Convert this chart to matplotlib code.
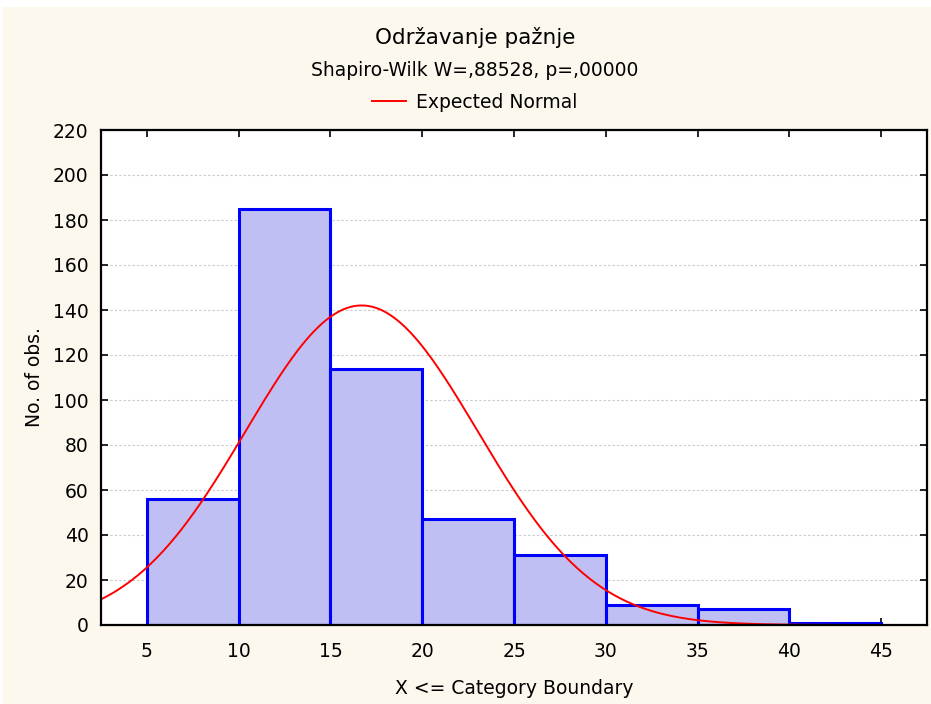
import numpy as np
import matplotlib.pyplot as plt
from matplotlib.patches import Rectangle

plt.rcParams['font.family'] = ['DejaVu Sans']

# histogram data
bin_edges = [5, 10, 15, 20, 25, 30, 35, 40, 45]
counts = [56, 185, 114, 47, 31, 9, 7, 1]

# expected normal parameters
mean_val = 16.7
sd_val = 6.32
n_obs = sum(counts)
bin_width = 5

title = "Održavanje pažnje"
subtitle = "Shapiro-Wilk W=,88528, p=,00000"
x_ticks = [5, 10, 15, 20, 25, 30, 35, 40, 45]
y_ticks = list(range(0, 221, 20))


def main():
    fig = plt.figure(figsize=(9.31, 7.04), dpi=100, facecolor='white')
    # cream background panel (thin white strip at top and left)
    fig.patches.append(Rectangle((3 / 931, 0), 1, 1 - 7 / 704, transform=fig.transFigure,
                                 facecolor='#fdf8ee', edgecolor='none', zorder=-10))

    ax = fig.add_axes([101 / 931, 79 / 704, 826 / 931, 495 / 704])
    ax.set_facecolor('white')

    lefts = bin_edges[:-1]
    ax.bar(lefts, counts, width=bin_width, align='edge', facecolor='#bfbff3',
           edgecolor='#0000ff', linewidth=2.2, zorder=2)

    xs = np.linspace(2.5, 47.5, 400)
    ys = n_obs * bin_width / (sd_val * np.sqrt(2 * np.pi)) * np.exp(-0.5 * ((xs - mean_val) / sd_val) ** 2)
    line, = ax.plot(xs, ys, color='#ff0000', linewidth=1.4, zorder=3, label='Expected Normal')

    ax.set_xlim(2.5, 47.5)
    ax.set_ylim(0, 220)
    ax.set_xticks(x_ticks)
    ax.set_yticks(y_ticks)
    ax.yaxis.grid(True, linestyle=(0, (2, 2)), color='#c8c8c8', linewidth=0.8, zorder=0)
    ax.set_axisbelow(True)
    ax.tick_params(direction='in', length=5, width=1.2, labelsize=13.5, colors='black',
                   top=True, right=True, pad=12)
    ax.tick_params(axis='y', pad=9)
    for s in ax.spines.values():
        s.set_linewidth(1.6)
        s.set_zorder(4)

    ax.set_xlabel('X <= Category Boundary', fontsize=13.5, labelpad=13)
    ax.set_ylabel('No. of obs.', fontsize=13.5, labelpad=6)

    cx = 475 / 931
    fig.text(cx, 1 - 38 / 704, title, ha='center', va='center', fontsize=15.5)
    fig.text(cx, 1 - 71 / 704, subtitle, ha='center', va='center', fontsize=13.5)
    fig.legend(handles=[line], loc='center', bbox_to_anchor=(cx, 1 - 102 / 704),
               frameon=False, fontsize=13.5, handlelength=1.8, handletextpad=0.55)

    fig.savefig('out.png', dpi=100, facecolor=fig.get_facecolor())


if __name__ == '__main__':
    main()
